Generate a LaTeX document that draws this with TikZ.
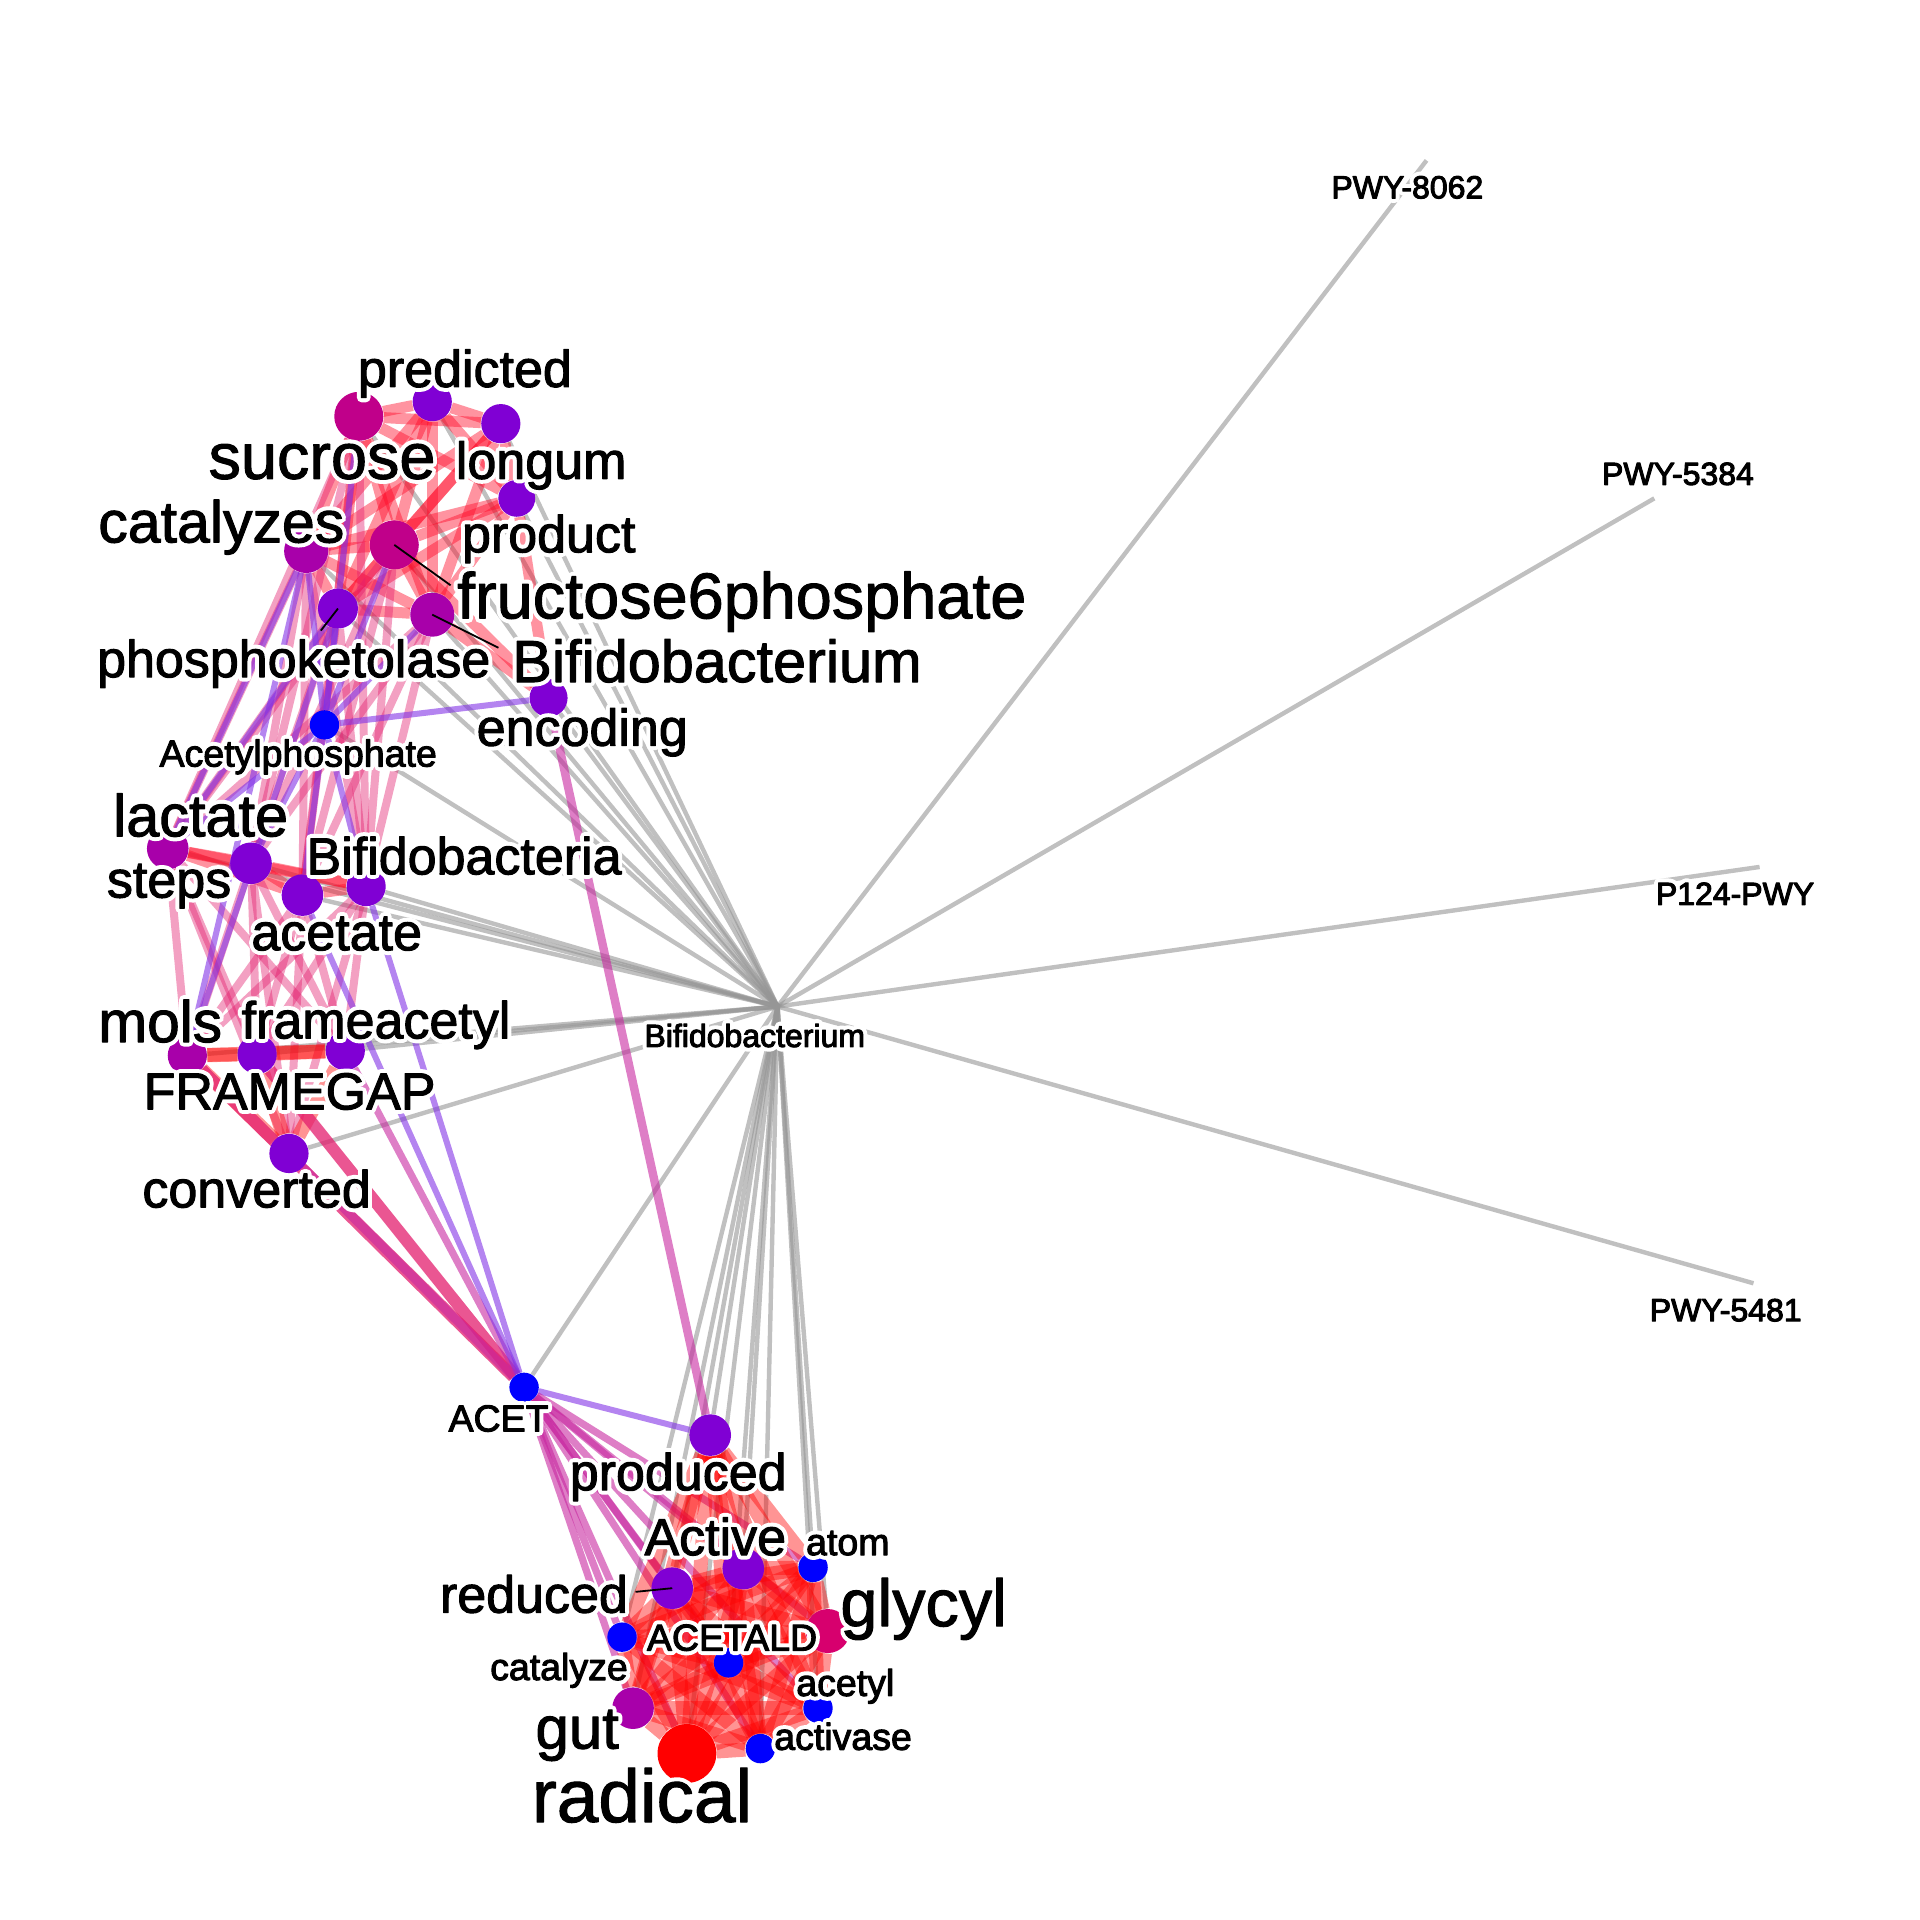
\documentclass[tikz,border=0pt]{standalone}
\usepackage{fontspec}
\setmainfont{Liberation Sans}
\pgfdeclarelayer{bg}
\pgfdeclarelayer{edges}
\pgfsetlayers{bg,edges,main}
\definecolor{npur}{RGB}{128,0,212}
\definecolor{nmag}{RGB}{192,0,138}
\definecolor{nmagb}{RGB}{168,0,170}
\definecolor{ngly}{RGB}{215,0,110}
\definecolor{nblue}{RGB}{0,0,255}
\definecolor{nred}{RGB}{255,0,0}
\definecolor{cred}{RGB}{255,10,40}
\definecolor{cpink}{RGB}{228,30,110}
\definecolor{cmag}{RGB}{200,40,160}
\definecolor{cvio}{RGB}{130,50,230}
\definecolor{cgrey}{RGB}{150,150,150}
\newcommand\halo[1]{\rlap{\color{white}\special{pdf:literal direct 2 Tr 1 1 1 RG 4.5 w 1 j 1 J}#1\special{pdf:literal direct 0 Tr}}\special{pdf:literal direct 2 Tr 0 0 0 RG 0.5 w}#1\special{pdf:literal direct 0 Tr}}
\newcommand\clique[2]{\foreach \a [count=\i] in {#2}{\foreach \b [count=\j] in {#2}{\ifnum\i<\j \draw[#1] (\a) -- (\b);\fi}}}
\newcommand\biclique[3]{\foreach \a in {#2}{\foreach \b in {#3}{\draw[#1] (\a) -- (\b);}}}
\tikzset{
 vtx/.style={circle,inner sep=0pt,minimum size=#1,draw=none},
 lbl/.style={anchor=base west,inner sep=0pt,font=\fontsize{#1}{#1}\selectfont},
 gedge/.style={draw=cgrey,line width=2.2pt,draw opacity=0.6},
 redge/.style={draw=cred,line width=5.5pt,draw opacity=0.44},
 dedge/.style={draw=nred,line width=7pt,draw opacity=0.42},
 pedge/.style={draw=cpink,line width=4pt,draw opacity=0.42},
 tpedge/.style={draw=cpink,line width=6pt,draw opacity=0.75},
 vedge/.style={draw=cvio,line width=3pt,draw opacity=0.6},
 medge/.style={draw=cmag,line width=3.6pt,draw opacity=0.6},
 ptr/.style={draw=black,line width=0.9pt}
}
\begin{document}
\begin{tikzpicture}[x=0.6122pt,y=-0.6122pt]
\useasboundingbox (0,0) rectangle (1568,1568);
\begin{pgfonlayer}{bg}
\fill[white] (0,0) rectangle (1568,1568);
\end{pgfonlayer}
% nodes
\node[vtx=24.5pt,fill=nmag] (suc) at (293,340) {};
\node[vtx=19.6pt,fill=npur] (pre) at (353,328) {};
\node[vtx=19.6pt,fill=npur] (lon) at (409,346) {};
\node[vtx=18.4pt,fill=npur] (pro) at (422,407) {};
\node[vtx=24.5pt,fill=nmag] (fru) at (322,445) {};
\node[vtx=22pt,fill=nmagb] (cat) at (250,450) {};
\node[vtx=20pt,fill=npur] (pho) at (276,497) {};
\node[vtx=22pt,fill=nmagb] (bfn) at (353,502) {};
\node[vtx=19pt,fill=npur] (enc) at (448,570) {};
\node[vtx=14.7pt,fill=nblue] (acp) at (265,592) {};
\node[vtx=20.8pt,fill=nmagb] (lac) at (137,693) {};
\node[vtx=20.8pt,fill=npur] (ste) at (205,705) {};
\node[vtx=20.8pt,fill=npur] (ace) at (247,731) {};
\node[vtx=19.6pt,fill=npur] (bfa) at (299,724) {};
\node[vtx=19.6pt,fill=nmagb] (mol) at (153,862) {};
\node[vtx=19.6pt,fill=npur] (fgp) at (210,861) {};
\node[vtx=19.6pt,fill=npur] (fac) at (282,858) {};
\node[vtx=19.6pt,fill=npur] (con) at (236,942) {};
\node[vtx=14.7pt,fill=nblue] (acet) at (428,1133) {};
\node[vtx=20.8pt,fill=npur] (prd) at (580,1172) {};
\node[vtx=20.8pt,fill=npur] (act) at (607,1281) {};
\node[vtx=14.7pt,fill=nblue] (atm) at (664,1280) {};
\node[vtx=20.8pt,fill=npur] (rdc) at (549,1297) {};
\node[vtx=22pt,fill=ngly] (gly) at (676,1332) {};
\node[vtx=14.7pt,fill=nblue] (ctz) at (508,1337) {};
\node[vtx=14.7pt,fill=nblue] (ald) at (595,1358) {};
\node[vtx=20.8pt,fill=nmagb] (gut) at (517,1395) {};
\node[vtx=14.7pt,fill=nblue] (acl) at (668,1395) {};
\node[vtx=29.4pt,fill=nred] (rad) at (561,1432) {};
\node[vtx=14.7pt,fill=nblue] (avs) at (621,1428) {};
\coordinate (hub) at (635,822);
\coordinate (pw1) at (1165,131);
\coordinate (pw2) at (1351,407);
\coordinate (pw3) at (1437,708);
\coordinate (pw4) at (1432,1048);
% edges
\begin{pgfonlayer}{edges}
\biclique{gedge}{hub}{pw1,pw2,pw3,pw4,suc,pre,lon,pro,fru,cat,pho,bfn,enc,acp,lac,ste,ace,bfa,mol,fgp,fac,con,acet,prd,act,atm,rdc,gly,ctz,ald,gut,acl,rad,avs}
\clique{redge}{suc,pre,lon,pro,fru,cat,pho,bfn}
\biclique{pedge}{cat,pho,fru,bfn,suc}{lac,ste,ace,bfa}
\clique{redge}{lac,ste,ace,bfa}
\biclique{pedge}{lac,ste,ace,bfa}{mol,fgp,fac,con}
\clique{dedge}{mol,fgp,fac,con}
\biclique{vedge}{acp}{suc,fru,cat,pho,bfn,lac,ste,ace,bfa,enc}
\biclique{redge}{enc}{bfn,pro,fru}
\biclique{vedge}{cat,pho}{lac,mol}
\draw[medge,line width=4.2pt] (enc) -- (prd);
\draw[tpedge] (mol) -- (acet);
\draw[tpedge] (fgp) -- (acet);
\draw[medge,line width=4.5pt] (con) -- (acet);
\draw[medge] (fac) -- (acet);
\draw[vedge] (bfa) -- (acet);
\draw[vedge] (ace) -- (acet);
\draw[vedge] (acet) -- (prd);
\biclique{medge}{acet}{rdc,ctz,gut,rad,ald,act,gly,acl,avs,atm}
\clique{dedge}{prd,act,atm,rdc,gly,ctz,ald,gut,acl,rad,avs}
\end{pgfonlayer}
% pointers
\coordinate (p-fru) at (368,478);
\coordinate (p-pho) at (262,515);
\coordinate (p-bfn) at (407,529);
\coordinate (p-rdc) at (519,1300);
\draw[ptr] (fru.center) -- (p-fru);
\draw[ptr] (pho.center) -- (p-pho);
\draw[ptr] (bfn.center) -- (p-bfn);
\draw[ptr] (rdc.center) -- (p-rdc);
% labels
\node[lbl=32.4pt] (l-suc) at (170,391) {\halo{sucrose}};
\node[lbl=26pt] (l-pre) at (292,316) {\halo{predicted}};
\node[lbl=26pt] (l-lon) at (372,391) {\halo{longum}};
\node[lbl=26pt] (l-pro) at (377,451) {\halo{product}};
\node[lbl=29.5pt] (l-cat) at (80,443) {\halo{catalyzes}};
\node[lbl=32.4pt] (l-fru) at (373,505) {\halo{fructose6phosphate}};
\node[lbl=26pt] (l-pho) at (79,553) {\halo{phosphoketolase}};
\node[lbl=29.7pt] (l-bfn) at (418,557) {\halo{Bifidobacterium}};
\node[lbl=26pt] (l-enc) at (389,609) {\halo{encoding}};
\node[lbl=18.75pt] (l-acp) at (130,626) {\halo{Acetylphosphate}};
\node[lbl=29.7pt] (l-lac) at (92,683) {\halo{lactate}};
\node[lbl=26pt] (l-ste) at (87,733) {\halo{steps}};
\node[lbl=26pt] (l-bfa) at (250,714) {\halo{Bifidobacteria}};
\node[lbl=26pt] (l-ace) at (205,776) {\halo{acetate}};
\node[lbl=29.3pt] (l-mol) at (80,851) {\halo{mols}};
\node[lbl=26pt] (l-fac) at (197,848) {\halo{frameacetyl}};
\node[lbl=26pt] (l-fgp) at (117,906) {\halo{FRAMEGAP}};
\node[lbl=26pt] (l-con) at (116,986) {\halo{converted}};
\node[lbl=18.75pt] (l-acet) at (366,1169) {\halo{ACET}};
\node[lbl=26pt] (l-prd) at (465,1217) {\halo{produced}};
\node[lbl=26pt] (l-act) at (526,1270) {\halo{Active}};
\node[lbl=18.75pt] (l-atm) at (658,1270) {\halo{atom}};
\node[lbl=26pt] (l-rdc) at (359,1317) {\halo{reduced}};
\node[lbl=33.3pt] (l-gly) at (686,1328) {\halo{glycyl}};
\node[lbl=18.75pt] (l-ald) at (528,1348) {\halo{ACETALD}};
\node[lbl=18.75pt] (l-ctz) at (400,1372) {\halo{catalyze}};
\node[lbl=18.75pt] (l-acl) at (650,1385) {\halo{acetyl}};
\node[lbl=30pt] (l-gut) at (437,1428) {\halo{gut}};
\node[lbl=18.75pt] (l-avs) at (632,1429) {\halo{activase}};
\node[lbl=37.4pt] (l-rad) at (434,1488) {\halo{radical}};
\node[lbl=16pt] (l-hub) at (526,855) {\halo{Bifidobacterium}};
\node[lbl=16pt] (l-pw1) at (1087,162) {\halo{PWY-8062}};
\node[lbl=16pt] (l-pw2) at (1308,396) {\halo{PWY-5384}};
\node[lbl=16pt] (l-pw3) at (1352,739) {\halo{P124-PWY}};
\node[lbl=16pt] (l-pw4) at (1347,1079) {\halo{PWY-5481}};
\end{tikzpicture}
\end{document}
